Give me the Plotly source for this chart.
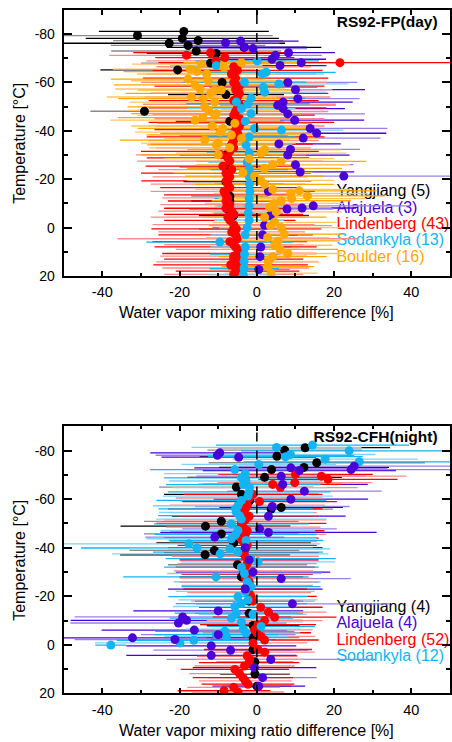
import plotly.graph_objects as go

# ---------------- RS92-FP (day) ----------------
# temperature [deg C], mean mixing-ratio difference [%], uncertainty half-width [%]
fp_yangjiang_t = [-81.1, -79.4, -78.2, -77.3, -76.2, -75.3, -74.5, -73.0, -72.0, -68.0, -65.2, -60.0, -55.0,
                  -48.1, -44.0, -38.0, -30.0, -25.0, -19.0, -13.0, -11.0, -7.7, -5.0, 0.6]
fp_yangjiang_d = [-18.9, -30.9, -19.3, -15.2, -22.7, -17.8, -3.3, -15.7, -10.5, -12.0, -20.5, -9.0, -8.0,
                  -29.1, -7.0, -6.0, -8.0, -8.0, -8.0, -7.0, -7.0, -7.5, -6.0, -6.0]
fp_yangjiang_e = [22, 35, 25, 22, 30, 20, 20, 22, 18, 18, 20, 16, 15,
                  14, 14, 14, 12, 12, 11, 10, 10, 10, 9, 9]

fp_alajuela_t = [-77.1, -76.4, -74.6, -74.0, -72.3, -71.2, -69.6, -68.2, -67.0, -60.0, -57.0, -53.3, -51.9,
                 -50.6, -49.2, -47.0, -44.4, -41.0, -39.0, -37.0, -34.6, -32.3, -30.0, -26.0, -23.0, -21.3,
                 -15.0, -9.0, -8.1, -7.7, -5.0, -1.0, 3.0, 8.0, 12.0, 17.3]
fp_alajuela_d = [-4.2, -8.1, -3.2, -1.0, 8.2, 4.8, 3.9, 11.5, 6.0, 8.0, 10.0, 10.6, 6.8,
                 5.4, 6.8, 8.0, 9.8, 13.8, 15.5, 12.0, 5.7, 8.7, 8.0, 10.0, 11.2, 22.5,
                 3.0, 14.6, 11.7, 7.8, 3.5, 2.0, 1.5, 1.0, 0.8, 0.5]
fp_alajuela_e = [15, 14, 16, 14, 12, 12, 14, 10, 12, 18, 18, 16, 18,
                 15, 16, 20, 18, 20, 18, 20, 16, 18, 16, 15, 14, 30,
                 12, 25, 14, 12, 10, 10, 9, 8, 8, 8]

fp_lindenberg_t = [-72.3, -71.2, -70.3, -68.9, -68.2, -66.5, -65.0, -63.5, -61.8, -60.0, -58.5, -57.0, -55.5,
                   -54.0, -52.5, -51.0, -49.5, -48.0, -46.5, -45.0, -43.5, -42.0, -40.5, -39.0, -37.5, -36.0,
                   -34.5, -33.0, -31.5, -30.1, -28.8, -27.5, -25.4, -24.0, -22.5, -21.0, -19.3, -18.0, -16.5,
                   -15.0, -13.5, -12.3, -11.0, -9.5, -8.0, -6.8, -5.5, -4.3, -3.0, -1.2, 0.5, 1.8,
                   3.0, 4.6, 5.8, 7.0, 8.0, 9.0, 10.7, 11.8, 13.0, 14.2, 15.4, 16.7, 18.0, 19.3]
fp_lindenberg_d = [-12.0, -18.2, -8.3, -10.6, 21.5, -6.0, -5.0, -6.6, -5.5, -6.0, -4.5, -5.5, -4.5,
                   -5.0, -6.0, -4.5, -5.0, -5.5, -6.0, -4.5, -4.0, -4.5, -5.5, -5.0, -5.5, -6.0,
                   -6.5, -6.0, -7.0, -9.3, -7.5, -7.0, -8.8, -6.5, -8.0, -7.0, -7.9, -7.5, -7.0,
                   -8.5, -8.0, -7.5, -8.0, -7.0, -8.0, -6.5, -6.0, -7.5, -7.0, -6.0, -5.3, -6.5,
                   -5.5, -5.1, -7.0, -6.0, -5.5, -5.0, -4.5, -6.0, -6.0, -5.0, -6.8, -5.5, -5.0, -6.0]
fp_lindenberg_e = [20, 20, 18, 18, 47, 20, 22, 22, 24, 24, 22, 25, 23,
                   24, 22, 25, 23, 24, 21, 22, 24, 22, 21, 20, 23, 22,
                   21, 20, 23, 22, 21, 24, 20, 19, 22, 20, 22, 20, 18,
                   19, 16, 17, 15, 18, 16, 19, 18, 20, 17, 21, 22, 19,
                   20, 31, 20, 18, 21, 16, 20, 19, 18, 21, 20, 19, 16, 18]

fp_sodankyla_t = [-68.9, -66.9, -64.2, -63.5, -60.1, -59.4, -58.0, -56.0, -53.5, -51.9, -51.2, -49.2, -47.1,
                  -44.0, -41.0, -40.3, -37.5, -34.2, -31.0, -27.0, -24.0, -21.0, -18.0, -15.0, -12.0, -9.0,
                  -6.0, -3.0, 0.0, 3.0, 6.0, 8.0, 11.0, 14.0, 17.0, 19.5]
fp_sodankyla_d = [0.1, -10.5, 2.4, 1.4, -3.2, 5.7, 1.7, 2.0, -1.5, -5.3, -2.3, -4.0, -1.5,
                  -3.0, -0.6, 6.4, -2.0, -2.8, -2.0, -2.5, -2.0, -2.0, -1.9, -1.8, -2.0, -2.0,
                  -2.2, -2.0, -2.5, -3.0, -9.6, -3.0, -3.2, -3.3, -3.3, -3.5]
fp_sodankyla_e = [16, 12, 18, 16, 16, 18, 14, 16, 14, 14, 16, 14, 13,
                  12, 14, 16, 12, 12, 11, 10, 10, 10, 9, 9, 9, 9,
                  9, 9, 9, 9, 19, 9, 9, 9, 9, 9]

fp_boulder_t = [-68.2, -67.6, -66.2, -65.5, -64.5, -63.5, -61.4, -60.7, -59.0, -57.3, -56.9, -56.7, -55.5,
                -54.0, -53.3, -51.9, -49.9, -48.5, -47.1, -46.4, -45.5, -44.4, -43.1, -42.0, -41.0, -39.5,
                -38.3, -36.9, -36.2, -34.9, -34.2, -33.0, -32.2, -30.8, -30.1, -28.5, -27.4, -26.0, -24.5,
                -22.7, -21.3, -19.5, -17.9, -15.8, -15.2, -14.1, -13.1, -12.0, -11.1, -10.0, -8.4, -6.5,
                -4.3, -2.2, -0.8, 0.0, 2.7, 4.1, 5.5, 7.3, 9.0, 10.7, 12.0, 14.0, 16.1, 18.8]
fp_boulder_d = [-4.0, -14.3, -8.5, -17.3, -15.5, -13.0, -17.8, -12.6, -16.0, -14.7, -9.2, -10.9, -12.0,
                -16.9, -13.9, -10.9, -13.5, -12.5, -10.5, -10.9, -14.0, -16.0, -5.7, -11.5, -8.8, -9.5,
                -6.6, -4.0, -13.5, -10.0, -10.5, -7.0, 2.0, 1.1, -10.0, -2.0, 6.3, 4.1, 2.0,
                -3.6, -0.6, 1.0, 2.0, 4.1, 11.0, 8.8, 13.1, 9.0, 6.3, 4.5, 3.3, 5.0,
                2.0, 4.6, 3.5, 6.3, 7.1, 2.8, 5.5, 4.6, 6.0, 8.0, 4.1, 3.0, 2.8, 3.7]
fp_boulder_e = [15, 18, 14, 20, 19, 18, 20, 20, 21, 22, 20, 20, 22,
                22, 22, 22, 20, 21, 22, 20, 22, 22, 20, 21, 22, 22,
                22, 20, 22, 20, 18, 21, 20, 22, 20, 22, 22, 20, 20,
                18, 18, 19, 18, 20, 20, 20, 20, 19, 18, 18, 16, 17,
                16, 16, 16, 16, 15, 16, 16, 15, 15, 14, 14, 13, 12, 12]

# ---------------- RS92-CFH (night) ----------------
cfh_yangjiang_t = [-81.2, -80.2, -77.7, -75.0, -73.1, -72.2, -69.0, -65.0, -62.0, -59.3, -56.6, -55.9, -53.0,
                   -50.9, -48.9, -45.7, -42.0, -38.9, -37.1, -33.0, -28.0, -23.0, -18.0, -13.0, -8.0, -3.0,
                   2.0, 7.0, 12.0, 17.0]
cfh_yangjiang_d = [12.5, 7.2, 5.2, 15.5, 12.2, 3.8, 2.0, -5.3, -4.0, -1.9, 6.3, 3.7, -4.0,
                   -9.2, -13.3, -9.2, -6.0, -11.0, -13.4, -5.0, -4.0, -3.0, -2.0, -2.0, -1.0, -1.0,
                   -1.0, -0.5, -0.5, 0.0]
cfh_yangjiang_e = [22, 20, 20, 28, 22, 22, 20, 20, 20, 18, 16, 16, 18,
                   20, 22, 20, 20, 22, 22, 18, 16, 16, 14, 14, 12, 12,
                   10, 10, 9, 9]

cfh_alajuela_t = [-79.1, -78.1, -77.3, -73.6, -72.9, -72.2, -71.8, -69.5, -66.1, -63.3, -60.0, -57.0, -53.0,
                  -47.8, -46.3, -44.4, -40.0, -35.0, -30.0, -27.3, -23.0, -16.9, -14.0, -11.5, -10.1, -9.0,
                  -6.1, -4.2, -2.9, -2.2, 0.4, 2.2, 4.3, 6.0, 9.4, 13.5, 17.0]
cfh_alajuela_d = [-9.6, -10.2, -4.7, 25.2, 8.8, 24.4, 11.0, 6.3, 6.7, 12.3, 8.8, 4.0, 3.0,
                  0.7, 3.0, -10.9, -3.0, -2.0, -1.0, 6.3, -3.0, 9.2, -10.0, -19.2, -18.2, -20.3,
                  -16.2, -10.0, -32.2, -21.2, -11.8, -6.8, -11.8, 3.6, -0.6, 1.5, 0.5]
cfh_alajuela_e = [18, 16, 20, 30, 25, 28, 25, 22, 22, 20, 20, 20, 20,
                  20, 28, 18, 20, 18, 20, 18, 20, 25, 22, 28, 30, 28,
                  24, 20, 30, 26, 22, 20, 22, 27, 16, 14, 12]

cfh_lindenberg_t = [-70.2, -69.5, -68.2, -66.8, -66.1, -64.8, -62.0, -60.5, -59.0, -57.5, -56.0, -54.5, -53.0,
                    -51.5, -50.0, -48.5, -47.0, -45.5, -44.0, -42.5, -41.0, -39.5, -38.0, -36.5, -35.0, -33.5,
                    -32.0, -30.5, -29.0, -27.5, -26.0, -24.5, -23.0, -21.5, -20.0, -18.0, -15.5, -13.5, -11.4,
                    -10.0, -8.3, -6.2, -5.0, -3.5, -2.0, -0.8, 1.9, 3.0, 4.5, 6.0, 7.3, 8.7,
                    10.1, 11.8, 13.5, 14.8, 16.2, 17.5, 18.9, 19.4]
cfh_lindenberg_d = [10.0, 16.7, 18.4, 9.8, 4.1, 6.1, -1.0, -2.0, 0.7, -2.5, -3.0, -3.5, -2.0,
                    -3.0, -4.0, -3.5, -2.5, -3.0, -4.0, -3.5, -2.5, -3.0, -4.0, -3.0, -2.0, -2.5,
                    -3.0, -3.5, -2.5, -3.0, -2.0, -2.5, -3.0, -2.0, -1.5, -1.0, 1.0, 3.0, 4.6,
                    2.0, 0.3, -0.6, 0.0, 1.1, 2.0, -1.0, 0.3, 2.0, -2.5, -1.9, -2.0, -3.2,
                    -5.7, -4.5, -3.6, -3.0, -2.3, -6.0, -8.5, -4.9]
cfh_lindenberg_e = [20, 22, 18, 20, 18, 20, 18, 19, 20, 20, 20, 19, 18,
                    21, 22, 20, 20, 21, 20, 19, 18, 20, 20, 19, 18, 18,
                    18, 18, 17, 17, 18, 17, 16, 16, 17, 16, 16, 15, 16,
                    15, 15, 15, 14, 14, 14, 14, 14, 13, 13, 14, 13, 13,
                    14, 13, 13, 12, 12, 12, 12, 12]

cfh_sodankyla_t = [-82.3, -81.3, -79.9, -78.4, -77.5, -76.5, -75.4, -74.3, -72.2, -70.5, -68.8, -67.5, -66.0,
                   -64.8, -63.0, -61.3, -59.5, -57.3, -56.0, -54.6, -53.2, -51.8, -49.8, -47.1, -45.5, -43.7,
                   -43.0, -41.6, -39.9, -39.6, -38.2, -37.5, -35.5, -34.2, -32.0, -29.4, -28.0, -26.0, -24.0,
                   -22.0, -19.9, -18.5, -17.0, -15.8, -13.1, -12.6, -11.0, -9.5, -7.6, -6.5, -5.6, -4.9,
                   -4.2, -3.5, -1.9, -0.8, 0.1]
cfh_sodankyla_d = [14.4, 5.1, 23.9, 8.7, 7.4, 17.7, 26.5, 0.5, -5.7, -3.0, -4.0, -2.8, -3.5,
                   -1.9, -2.0, -2.3, -4.0, -4.9, -5.5, -5.3, -4.5, -4.0, -6.6, -4.9, -5.5, -6.6,
                   -2.8, -17.6, -15.5, -7.0, -4.9, -9.5, -1.6, 0.3, -4.0, -3.2, -10.6, -2.5, -1.5,
                   -3.0, -4.9, -2.3, -4.0, -5.7, -5.3, -1.0, -6.6, -4.0, 1.1, -3.5, -8.3, -2.8,
                   -10.5, -7.9, -16.3, -19.9, -37.8]
cfh_sodankyla_e = [25, 22, 28, 22, 20, 24, 30, 20, 22, 21, 20, 20, 20,
                   20, 21, 22, 22, 22, 20, 20, 21, 22, 20, 20, 21, 22,
                   20, 34, 30, 26, 22, 28, 22, 20, 20, 20, 24, 19, 18,
                   18, 18, 18, 17, 16, 16, 14, 16, 16, 14, 15, 18, 14,
                   16, 16, 20, 22, 4]

# station labels, sounding counts and colours (dark = markers / one profile set, light = the other)
station_names = ["Yangjiang", "Alajuela", "Lindenberg", "Sodankyla", "Boulder"]
fp_counts = [5, 3, 43, 13, 16]
cfh_counts = [4, 4, 52, 12]
dark_colors = ["#000000", "#4a00d8", "#ff0000", "#12b4f2", "#ffa800"]
light_colors = ["#8a8a8a", "#9a80ea", "#ff8a8a", "#7fd2f8", "#ffc660"]

# stacking order of the mean markers (station index, bottom to top)
fp_marker_order = [0, 2, 3, 1, 4]
cfh_marker_order = [0, 2, 3, 1]

x_tickvals = [-40, -20, 0, 20, 40]
x_ticktext = ["-40", "-20", "0", "20", "40"]
y_tickvals = [-80, -60, -40, -20, 0, 20]
y_ticktext = ["-80", "-60", "-40", "-20", "0", "20"]

FONT = "Liberation Sans, Arial, sans-serif"

fp_sites = [
    (fp_yangjiang_t, fp_yangjiang_d, fp_yangjiang_e),
    (fp_alajuela_t, fp_alajuela_d, fp_alajuela_e),
    (fp_lindenberg_t, fp_lindenberg_d, fp_lindenberg_e),
    (fp_sodankyla_t, fp_sodankyla_d, fp_sodankyla_e),
    (fp_boulder_t, fp_boulder_d, fp_boulder_e),
]
cfh_sites = [
    (cfh_yangjiang_t, cfh_yangjiang_d, cfh_yangjiang_e),
    (cfh_alajuela_t, cfh_alajuela_d, cfh_alajuela_e),
    (cfh_lindenberg_t, cfh_lindenberg_d, cfh_lindenberg_e),
    (cfh_sodankyla_t, cfh_sodankyla_d, cfh_sodankyla_e),
]

fig = go.Figure()


def add_text(label, x, y, color, pos, xa, ya, bold=False):
    fig.add_trace(go.Scatter(
        x=[x], y=[y], mode="text", text=[f"<b>{label}</b>" if bold else label], textposition=pos,
        textfont=dict(family=FONT, size=15.5 if bold else 16, color=color),
        xaxis=xa, yaxis=ya, hoverinfo="skip", showlegend=False, cliponaxis=False))


def add_panel(sites, counts, order, title, title_y, legend_y, xa, ya):
    # labels sit underneath the data, so error bars can run across them
    add_text(title, 46.8, title_y, "#000000", "middle left", xa, ya, bold=True)
    for k, cnt in enumerate(counts):
        add_text(f"{station_names[k]} ({cnt})", 20.6, legend_y[k], dark_colors[k], "middle right", xa, ya)

    # uncertainty bars, alternating dark / light shade between levels
    for k, (t, d, e) in enumerate(sites):
        for parity, col in ((0, dark_colors[k]), (1, light_colors[k])):
            idx = [i for i in range(len(t)) if i % 2 == parity]
            fig.add_trace(go.Scatter(
                x=[d[i] for i in idx], y=[t[i] for i in idx], mode="markers",
                marker=dict(size=1, opacity=0),
                error_x=dict(type="data", array=[e[i] for i in idx], color=col, thickness=1.3, width=0),
                xaxis=xa, yaxis=ya, hoverinfo="skip", showlegend=False))
    # mean differences on top of all bars
    for k in order:
        t, d, e = sites[k]
        fig.add_trace(go.Scatter(
            x=d, y=t, mode="markers",
            marker=dict(size=9, color=dark_colors[k], line=dict(width=0)),
            xaxis=xa, yaxis=ya, name=station_names[k], showlegend=False))


add_panel(fp_sites, fp_counts, fp_marker_order, "RS92-FP(day)", -84.5,
          [-14.8, -7.9, -0.9, 5.6, 12.5], "x", "y")
add_panel(cfh_sites, cfh_counts, cfh_marker_order, "RS92-CFH(night)", -85.0,
          [-15.3, -8.4, -1.4, 5.1], "x2", "y2")

x_common = dict(
    range=[-50, 50], tickvals=x_tickvals, ticktext=x_ticktext,
    ticks="inside", ticklen=5, tickwidth=1.5, tickcolor="black",
    minor=dict(dtick=10, tick0=0, ticks="inside", ticklen=3, tickwidth=1.5, tickcolor="black"),
    showline=True, linewidth=2, linecolor="black", mirror="allticks",
    showgrid=False, zeroline=False, ticklabelstandoff=2,
    tickfont=dict(family=FONT, size=14.5, color="black"), fixedrange=True,
)
y_common = dict(
    range=[20, -90], tickvals=y_tickvals, ticktext=y_ticktext,
    ticks="inside", ticklen=8, tickwidth=1.5, tickcolor="black",
    minor=dict(dtick=10, tick0=0, ticks="inside", ticklen=4, tickwidth=1.5, tickcolor="black"),
    showline=True, linewidth=2, linecolor="black", mirror="allticks",
    showgrid=False, zeroline=False, ticklabelstandoff=4,
    tickfont=dict(family=FONT, size=14, color="black"), fixedrange=True,
)

W, H = 452, 742
fig.update_layout(
    width=W, height=H, margin=dict(l=0, r=0, t=0, b=0),
    paper_bgcolor="white", plot_bgcolor="white", showlegend=False,
    xaxis=dict(domain=[64 / W, 1.0], anchor="y", **x_common),
    yaxis=dict(domain=[1 - 279 / H, 1 - 10 / H], anchor="x", **y_common),
    xaxis2=dict(domain=[64 / W, 1.0], anchor="y2", **x_common),
    yaxis2=dict(domain=[1 - 701 / H, 1 - 431 / H], anchor="x2", **y_common),
)

# zero-difference reference line in each panel
for xa, ya in (("x", "y"), ("x2", "y2")):
    fig.add_shape(type="line", xref=xa, yref=f"{ya} domain", x0=0, x1=0, y0=0, y1=1,
                  line=dict(color="black", width=1.5, dash="dash"), layer="above")

# axis titles
for yc, xc in ((316, 144.5), (738, 566)):
    fig.add_annotation(text="Water vapor mixing ratio difference [%]", xref="paper", yref="paper",
                       x=258 / W, y=1 - yc / H, showarrow=False, xanchor="center", yanchor="middle",
                       font=dict(family=FONT, size=16, color="black"))
    fig.add_annotation(text="Temperature [°C]", xref="paper", yref="paper", textangle=-90,
                       x=20 / W, y=1 - xc / H, showarrow=False, xanchor="center", yanchor="middle",
                       font=dict(family=FONT, size=16, color="black"))

fig.write_html("out.html")
